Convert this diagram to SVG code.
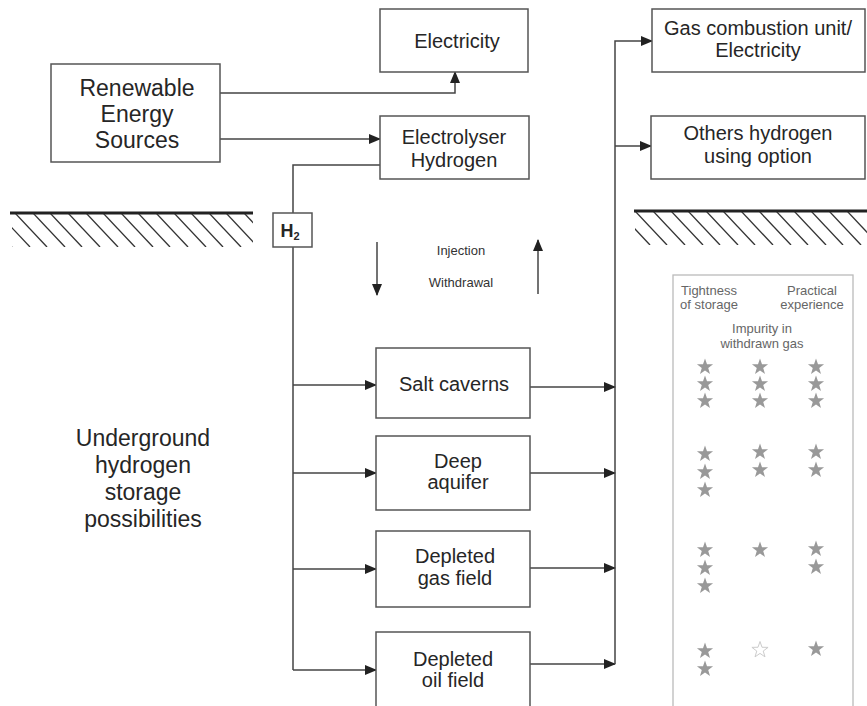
<svg xmlns="http://www.w3.org/2000/svg" width="867" height="706" viewBox="0 0 867 706">
<style>
.box{fill:#fff;stroke:#555;stroke-width:1.5}
.t{font-family:"Liberation Sans",Arial,sans-serif;fill:#262626;text-anchor:middle}
.b{font-size:20px}
.big{font-size:23px}
.sm{font-size:13px;fill:#333}
.pn{font-size:13px;fill:#666}
.c{fill:none;stroke:#444;stroke-width:1.5}
.ground{stroke:#222;stroke-width:3}
.hatch{stroke:#333;stroke-width:1.3}
.star{fill:#999}
.hstar{fill:none;stroke:#ccc;stroke-width:1}
</style>
<defs>
<marker id="ah" markerWidth="12" markerHeight="10" refX="11" refY="5" orient="auto" markerUnits="userSpaceOnUse">
<path d="M0,0 L12,5 L0,10 Z" fill="#222"/>
</marker>
<path id="st" d="M0,-8.5 L2,-2.75 L8.08,-2.63 L3.23,1.05 L5,6.88 L0,3.4 L-5,6.88 L-3.23,1.05 L-8.08,-2.63 L-2,-2.75 Z"/>
<clipPath id="cl"><rect x="12" y="214" width="241" height="33"/></clipPath>
<clipPath id="cr"><rect x="635" y="212" width="232" height="33"/></clipPath>
</defs>
<rect width="867" height="706" fill="#fff"/>

<g id="ground">
<line class="ground" x1="10" y1="213" x2="253" y2="213"/>
<g clip-path="url(#cl)" class="hatch">
<line x1="-20" y1="213" x2="12" y2="247"/><line x1="-2" y1="213" x2="30" y2="247"/><line x1="15" y1="213" x2="47" y2="247"/><line x1="33" y1="213" x2="65" y2="247"/><line x1="50" y1="213" x2="82" y2="247"/><line x1="68" y1="213" x2="100" y2="247"/><line x1="86" y1="213" x2="118" y2="247"/><line x1="103" y1="213" x2="135" y2="247"/><line x1="121" y1="213" x2="153" y2="247"/><line x1="138" y1="213" x2="170" y2="247"/><line x1="156" y1="213" x2="188" y2="247"/><line x1="174" y1="213" x2="206" y2="247"/><line x1="191" y1="213" x2="223" y2="247"/><line x1="209" y1="213" x2="241" y2="247"/><line x1="226" y1="213" x2="258" y2="247"/><line x1="244" y1="213" x2="276" y2="247"/>
</g>
<line class="ground" x1="634" y1="211" x2="867" y2="211"/>
<g clip-path="url(#cr)" class="hatch">
<line x1="600" y1="211" x2="632" y2="245"/><line x1="618" y1="211" x2="650" y2="245"/><line x1="635" y1="211" x2="667" y2="245"/><line x1="653" y1="211" x2="685" y2="245"/><line x1="671" y1="211" x2="703" y2="245"/><line x1="688" y1="211" x2="720" y2="245"/><line x1="706" y1="211" x2="738" y2="245"/><line x1="723" y1="211" x2="755" y2="245"/><line x1="741" y1="211" x2="773" y2="245"/><line x1="759" y1="211" x2="791" y2="245"/><line x1="776" y1="211" x2="808" y2="245"/><line x1="794" y1="211" x2="826" y2="245"/><line x1="811" y1="211" x2="843" y2="245"/><line x1="829" y1="211" x2="861" y2="245"/><line x1="847" y1="211" x2="879" y2="245"/>
</g>
</g>

<g id="connectors">
<path class="c" d="M220,93 H455 V72" marker-end="url(#ah)"/>
<path class="c" d="M220,139 H380" marker-end="url(#ah)"/>
<path class="c" d="M380,165 H293 V670"/>
<path class="c" d="M293,385 H376" marker-end="url(#ah)"/>
<path class="c" d="M293,473 H376" marker-end="url(#ah)"/>
<path class="c" d="M293,569 H376" marker-end="url(#ah)"/>
<path class="c" d="M293,670 H376" marker-end="url(#ah)"/>
<path class="c" d="M530,387 H615" marker-end="url(#ah)"/>
<path class="c" d="M530,473 H615" marker-end="url(#ah)"/>
<path class="c" d="M530,568 H615" marker-end="url(#ah)"/>
<path class="c" d="M530,664 H615" marker-end="url(#ah)"/>
<path class="c" d="M615,664 V41 H652" marker-end="url(#ah)"/>
<path class="c" d="M615,146 H651" marker-end="url(#ah)"/>
<path class="c" d="M377,242 V295" marker-end="url(#ah)"/>
<path class="c" d="M538,294 V240" marker-end="url(#ah)"/>
</g>

<g id="res">
<rect class="box" x="51" y="64" width="169" height="98"/>
<text class="t big" x="137" y="96">Renewable</text>
<text class="t big" x="137" y="122">Energy</text>
<text class="t big" x="137" y="148">Sources</text>
</g>
<g id="electricity">
<rect class="box" x="380" y="9" width="148" height="63"/>
<text class="t b" x="457" y="48">Electricity</text>
</g>
<g id="electrolyser">
<rect class="box" x="380" y="116" width="149" height="63"/>
<text class="t b" x="454" y="144">Electrolyser</text>
<text class="t b" x="454" y="167">Hydrogen</text>
</g>
<g id="gas-combustion">
<rect class="box" x="652" y="9" width="213" height="63"/>
<text class="t b" x="758" y="35">Gas combustion unit/</text>
<text class="t b" x="758" y="57">Electricity</text>
</g>
<g id="others">
<rect class="box" x="651" y="116" width="214" height="63"/>
<text class="t b" x="758" y="140">Others hydrogen</text>
<text class="t b" x="758" y="163">using option</text>
</g>
<g id="h2">
<rect class="box" x="273" y="213" width="39" height="34"/>
<text class="t" x="290" y="237" style="font-size:18px;font-weight:bold">H<tspan dy="3" style="font-size:11px">2</tspan></text>
</g>
<g id="flow-labels">
<text class="t sm" x="461" y="255">Injection</text>
<text class="t sm" x="461" y="287">Withdrawal</text>
</g>
<g id="salt">
<rect class="box" x="376" y="348" width="154" height="70"/>
<text class="t b" x="454" y="391">Salt caverns</text>
</g>
<g id="aquifer">
<rect class="box" x="376" y="436" width="154" height="74"/>
<text class="t b" x="458" y="468">Deep</text>
<text class="t b" x="458" y="489">aquifer</text>
</g>
<g id="gasfield">
<rect class="box" x="376" y="531" width="154" height="76"/>
<text class="t b" x="455" y="563">Depleted</text>
<text class="t b" x="455" y="585">gas field</text>
</g>
<g id="oilfield">
<rect class="box" x="376" y="632" width="154" height="80"/>
<text class="t b" x="453" y="666">Depleted</text>
<text class="t b" x="453" y="687">oil field</text>
</g>
<g id="underground-label">
<text class="t big" x="143" y="446">Underground</text>
<text class="t big" x="143" y="473">hydrogen</text>
<text class="t big" x="143" y="500">storage</text>
<text class="t big" x="143" y="527">possibilities</text>
</g>
<g id="rating-panel">
<rect x="673" y="275" width="180" height="440" fill="none" stroke="#bbb" stroke-width="1.3"/>
<text class="t pn" x="709" y="295">Tightness</text>
<text class="t pn" x="709" y="309">of storage</text>
<text class="t pn" x="812" y="295">Practical</text>
<text class="t pn" x="812" y="309">experience</text>
<text class="t pn" x="762" y="333">Impurity in</text>
<text class="t pn" x="762" y="348">withdrawn gas</text>
<g class="star">
<use href="#st" x="705" y="367"/><use href="#st" x="705" y="384"/><use href="#st" x="705" y="401"/>
<use href="#st" x="760" y="367"/><use href="#st" x="760" y="384"/><use href="#st" x="760" y="401"/>
<use href="#st" x="816" y="367"/><use href="#st" x="816" y="384"/><use href="#st" x="816" y="401"/>
<use href="#st" x="705" y="454"/><use href="#st" x="705" y="472"/><use href="#st" x="705" y="490"/>
<use href="#st" x="760" y="452"/><use href="#st" x="760" y="470"/>
<use href="#st" x="816" y="452"/><use href="#st" x="816" y="470"/>
<use href="#st" x="705" y="550"/><use href="#st" x="705" y="568"/><use href="#st" x="705" y="586"/>
<use href="#st" x="760" y="550"/>
<use href="#st" x="816" y="549"/><use href="#st" x="816" y="567"/>
<use href="#st" x="705" y="651"/><use href="#st" x="705" y="669"/>
<use href="#st" x="816" y="649"/>
</g>
<use href="#st" x="760" y="650" class="hstar"/>
</g>
</svg>
